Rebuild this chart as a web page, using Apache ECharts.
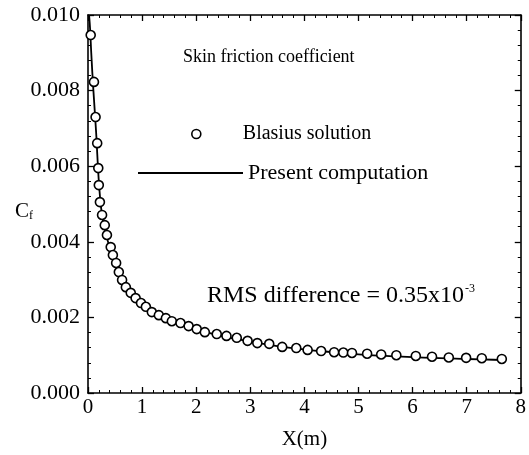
<!DOCTYPE html>
<html>
<head>
<meta charset="utf-8">
<script src="https://cdn.jsdelivr.net/npm/echarts@6/dist/echarts.min.js"></script>
<style>html,body{margin:0;padding:0;background:#fff;}#c{width:529px;height:455px;}</style>
</head>
<body>
<div id="c"></div>
<script>
// Blasius solution (circles)
const blasiusX = [0.05,0.11,0.14,0.17,0.19,0.20,0.22,0.26,0.31,0.35,0.42,0.46,0.52,0.57,0.63,0.70,0.79,0.88,0.98,1.07,1.18,1.31,1.44,1.55,1.71,1.86,2.01,2.16,2.38,2.56,2.75,2.95,3.13,3.35,3.59,3.85,4.06,4.31,4.55,4.72,4.88,5.16,5.42,5.70,6.06,6.36,6.67,6.99,7.28,7.65];
const blasiusCf = [0.00947,0.00823,0.00730,0.00661,0.00595,0.00550,0.00505,0.00471,0.00444,0.00418,0.00386,0.00365,0.00344,0.00320,0.00299,0.00280,0.00265,0.00251,0.00238,0.00228,0.00214,0.00206,0.00198,0.00190,0.00185,0.00177,0.00169,0.00161,0.00156,0.00151,0.00146,0.00138,0.00132,0.00130,0.00122,0.00119,0.00114,0.00111,0.00108,0.00107,0.00106,0.00104,0.00102,0.00100,0.00098,0.00096,0.00094,0.00093,0.00092,0.00090];
// Present computation (solid line)
const compX = [0.02,0.04,0.06,0.10,0.15,0.20,0.25,0.30,0.40,0.50,0.60,0.70,0.80,1.00,1.20,1.50,1.80,2.00,2.50,3.00,3.50,4.00,4.50,5.00,5.50,6.00,6.50,7.00,7.50,7.70];
const compCf = [0.01000,0.00960,0.00900,0.00800,0.00690,0.00560,0.00480,0.00440,0.00385,0.00345,0.00310,0.00285,0.00262,0.00233,0.00212,0.00193,0.00177,0.00168,0.00150,0.00136,0.00124,0.00115,0.00108,0.00102,0.00098,0.00095,0.00092,0.00090,0.00088,0.00087];
const xTicks = [0,1,2,3,4,5,6,7,8];
const yTicks = [0,0.002,0.004,0.006,0.008,0.010];

const FONT = '"Liberation Serif","Times New Roman",serif';
const chart = echarts.init(document.getElementById('c'), null, {renderer:'canvas'});

const axisCommon = {
  axisLine:{show:true,onZero:false,lineStyle:{color:'#000',width:1.6}},
  axisTick:{show:true,inside:true,length:6,lineStyle:{color:'#000',width:1.3}},
  minorTick:{show:true,splitNumber:5,length:3,lineStyle:{color:'#000',width:1}},
  splitLine:{show:false}
};

chart.setOption({
  backgroundColor:'#fff',
  animation:false,
  grid:{left:88,right:7,top:15,bottom:62,containLabel:false},
  legend:[
    {data:[{name:'Blasius solution',icon:'circle',itemStyle:{color:'#fff',borderColor:'#000',borderWidth:1.6,opacity:1}}],
     left:191,top:124,padding:0,itemWidth:83,itemHeight:9,
     textStyle:{fontFamily:FONT,fontSize:20,color:'#000'}},
    {data:[{name:'Present computation',icon:'rect',itemStyle:{color:'#000'}}],left:138,top:162,padding:0,itemWidth:105,itemHeight:2,
     textStyle:{fontFamily:FONT,fontSize:22,color:'#000'}}
  ],
  xAxis:[
    Object.assign({type:'value',position:'bottom',min:xTicks[0],max:xTicks[xTicks.length-1],interval:1,
      axisLabel:{color:'#000',fontFamily:FONT,fontSize:21,margin:4},
      name:'X(m)',nameLocation:'middle',nameGap:36,nameTextStyle:{color:'#000',fontFamily:FONT,fontSize:21}},axisCommon),
    Object.assign({type:'value',position:'top',min:xTicks[0],max:xTicks[xTicks.length-1],interval:1,
      axisLabel:{show:false}},axisCommon)
  ],
  yAxis:[
    Object.assign({type:'value',position:'left',min:yTicks[0],max:yTicks[yTicks.length-1],interval:0.002,
      axisLabel:{color:'#000',fontFamily:FONT,fontSize:22,margin:8,formatter:v=>v.toFixed(3)},
      name:'C{s|f}',nameLocation:'middle',nameRotate:0,nameGap:55,nameMoveOverlap:false,
      nameTextStyle:{color:'#000',fontFamily:FONT,fontSize:21,padding:[14,0,0,0],rich:{s:{fontFamily:FONT,fontSize:12,verticalAlign:'bottom',padding:[8,0,0,0]}}}},axisCommon),
    Object.assign({type:'value',position:'right',min:yTicks[0],max:yTicks[yTicks.length-1],interval:0.002,
      axisLabel:{show:false}},axisCommon)
  ],
  series:[
    {name:'Present computation',type:'line',symbol:'none',smooth:true,
     data:compX.map((x,i)=>[x,compCf[i]]),lineStyle:{color:'#000',width:1.8},itemStyle:{color:'#000'},z:2},
    {name:'Blasius solution',type:'scatter',symbol:'circle',symbolSize:9,
     data:blasiusX.map((x,i)=>[x,blasiusCf[i]]),
     itemStyle:{color:'#fff',borderColor:'#000',borderWidth:1.6,opacity:1},z:3}
  ],
  graphic:[
    {type:'text',left:183,top:48,style:{text:'Skin friction coefficient',fontFamily:FONT,fontSize:18,fill:'#000'}},
    {type:'text',left:207,top:283,style:{text:'RMS difference = 0.35x10{s|-3}',fontFamily:FONT,fontSize:24,fill:'#000',
      rich:{s:{fontFamily:FONT,fontSize:12,verticalAlign:'top',padding:[0,0,13,1]}}}}
  ]
});
</script>
</body>
</html>
